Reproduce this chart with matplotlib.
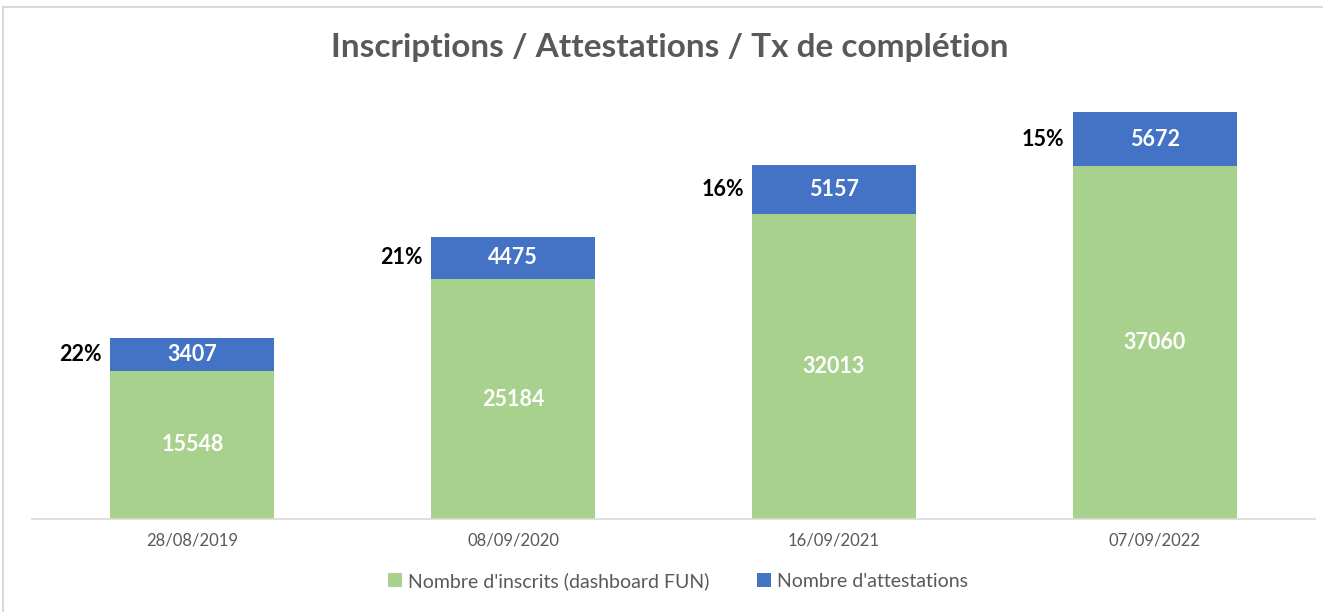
import numpy as np
import matplotlib.pyplot as plt

# =========================================================
# DONNEES
# =========================================================

dates = ["28/08/2019", "08/09/2020", "16/09/2021", "07/09/2022"]
inscrits = [15548, 25184, 32013, 37060]
attestations = [3407, 4475, 5157, 5672]
taux = ["22%", "21%", "16%", "15%"]

green = "#A9D18E"
blue = "#4472C4"
grey = "#595959"

plt.rcParams["font.family"] = ["Lato", "DejaVu Sans"]

fig = plt.figure(figsize=(13.23, 6.12), dpi=100)
ax = fig.add_axes([32 / 1323, 1 - 519 / 612, 1283 / 1323, 428.6 / 612])

x = np.arange(len(dates))
w = 0.512

ax.bar(x, inscrits, w, color=green, label="Nombre d'inscrits (dashboard FUN)")
ax.bar(x, attestations, w, bottom=inscrits, color=blue, label="Nombre d'attestations")

for i in range(len(dates)):
    ax.text(x[i], inscrits[i] / 2, str(inscrits[i]), ha="center", va="center",
            color="white", fontsize=15.5, fontweight="bold")
    mid = inscrits[i] + attestations[i] / 2
    ax.text(x[i], mid, str(attestations[i]), ha="center", va="center",
            color="white", fontsize=15.5, fontweight="bold")
    ax.text(x[i] - w / 2 - 0.025, mid, taux[i], ha="right", va="center",
            color="black", fontsize=15.5, fontweight="bold")

ax.set_xlim(-0.5, 3.5)
ax.set_ylim(0, 45000)
ax.set_xticks(x)
ax.set_xticklabels(dates, fontsize=12, color=grey)
ax.tick_params(axis="x", length=0, pad=10)
ax.set_yticks([])
for s in ["top", "left", "right"]:
    ax.spines[s].set_visible(False)
ax.spines["bottom"].set_color("#D9D9D9")
ax.spines["bottom"].set_linewidth(1.2)

fig.text(670 / 1323, 1 - 47 / 612, "Inscriptions / Attestations / Tx de complétion",
         ha="center", va="center", fontsize=24, fontweight="bold", color=grey)

fig.legend(loc="center", bbox_to_anchor=(678 / 1323, 1 - 581 / 612), ncol=2,
           frameon=False, fontsize=14, handlelength=0.7, handleheight=0.7,
           handletextpad=0.3, columnspacing=2.5, labelcolor=grey)

# cadre
fig.add_artist(plt.Line2D([3 / 1323, 1], [1 - 7 / 612, 1 - 7 / 612], color="#D9D9D9", lw=1.5))
fig.add_artist(plt.Line2D([3 / 1323, 3 / 1323], [0, 1 - 7 / 612], color="#D9D9D9", lw=1.5))

fig.savefig("out.png", dpi=100)
